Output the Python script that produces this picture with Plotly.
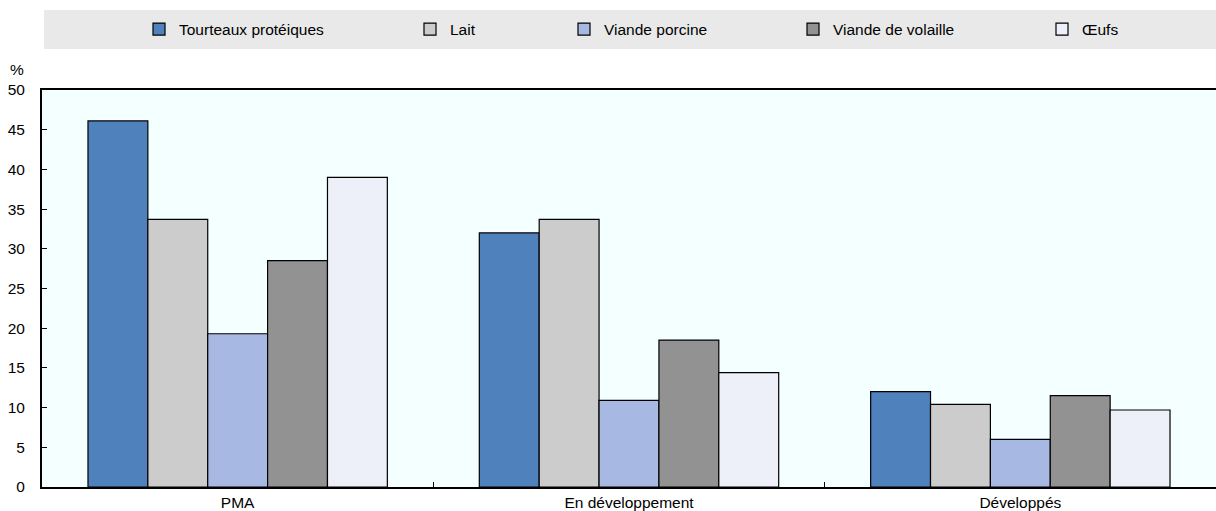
import plotly.graph_objects as go

categories = ["PMA", "En développement", "Développés"]
series_names = ["Tourteaux protéiques", "Lait", "Viande porcine", "Viande de volaille", "Œufs"]
tourteaux = [46.1, 32.0, 12.0]
lait = [33.7, 33.7, 10.4]
porcine = [19.3, 10.9, 6.0]
volaille = [28.5, 18.5, 11.5]
oeufs = [39.0, 14.4, 9.7]
y_ticks = [0, 5, 10, 15, 20, 25, 30, 35, 40, 45, 50]

values = [tourteaux, lait, porcine, volaille, oeufs]
colors = ["#4f81bd", "#cccccc", "#a7b9e3", "#929292", "#edf0f8"]
legend_text_start = [175, 446, 600, 829, 1078]

FONT = "Liberation Sans, Arial, sans-serif"
FS = 15.5
W, H = 1216, 511
L, R, T, B = 42, 0, 90, 24
PW, PH = W - L - R, H - T - B

fig = go.Figure()
for i, (name, vals, col) in enumerate(zip(series_names, values, colors)):
    lg = "legend" if i == 0 else f"legend{i+1}"
    fig.add_trace(go.Bar(
        x=categories, y=vals, name=name,
        marker=dict(color=col, line=dict(color="#000000", width=1.2)),
        legend=lg,
    ))

layout_legends = {}
for i, ts in enumerate(legend_text_start):
    key = "legend" if i == 0 else f"legend{i+1}"
    layout_legends[key] = dict(
        xref="container", yref="container",
        x=(ts - 36) / W, y=1 - 29.5 / H, xanchor="left", yanchor="middle",
        bgcolor="rgba(0,0,0,0)", borderwidth=0,
        font=dict(family=FONT, size=FS, color="#000000"),
        itemwidth=30, tracegroupgap=0,
    )

fig.update_layout(
    width=W, height=H,
    margin=dict(l=L, r=R, t=T, b=B, autoexpand=False),
    paper_bgcolor="#ffffff",
    plot_bgcolor="#f4ffff",
    barmode="group",
    bargap=0.235,
    bargroupgap=0,
    font=dict(family=FONT, size=FS, color="#000000"),
    showlegend=True,
    **layout_legends,
)

fig.add_shape(type="rect", xref="paper", yref="paper",
              x0=(44 - L) / PW, x1=1.0, y0=(H - B - 49) / PH, y1=(H - B - 10) / PH,
              fillcolor="#e9e9e9", line=dict(width=0), layer="below")

fig.add_annotation(text="%", xref="paper", yref="paper", x=(17 - L) / PW, y=(H - B - 70) / PH,
                   xanchor="center", yanchor="middle", showarrow=False,
                   font=dict(family=FONT, size=FS, color="#000000"))

fig.update_xaxes(
    showline=True, linecolor="#000000", linewidth=2, mirror=True,
    ticks="inside", tickson="boundaries", ticklen=5, tickcolor="#000000", tickwidth=1,
    showgrid=False, tickfont=dict(family=FONT, size=FS, color="#000000"),
)
fig.update_yaxes(
    range=[0, 50], tickvals=y_ticks, showline=True, linecolor="#000000", linewidth=2,
    ticks="inside", ticklen=5, tickcolor="#000000", tickwidth=1, ticklabelstandoff=12,
    showgrid=False, zeroline=False, tickfont=dict(family=FONT, size=FS, color="#000000"),
)

fig.write_html("out.html")
